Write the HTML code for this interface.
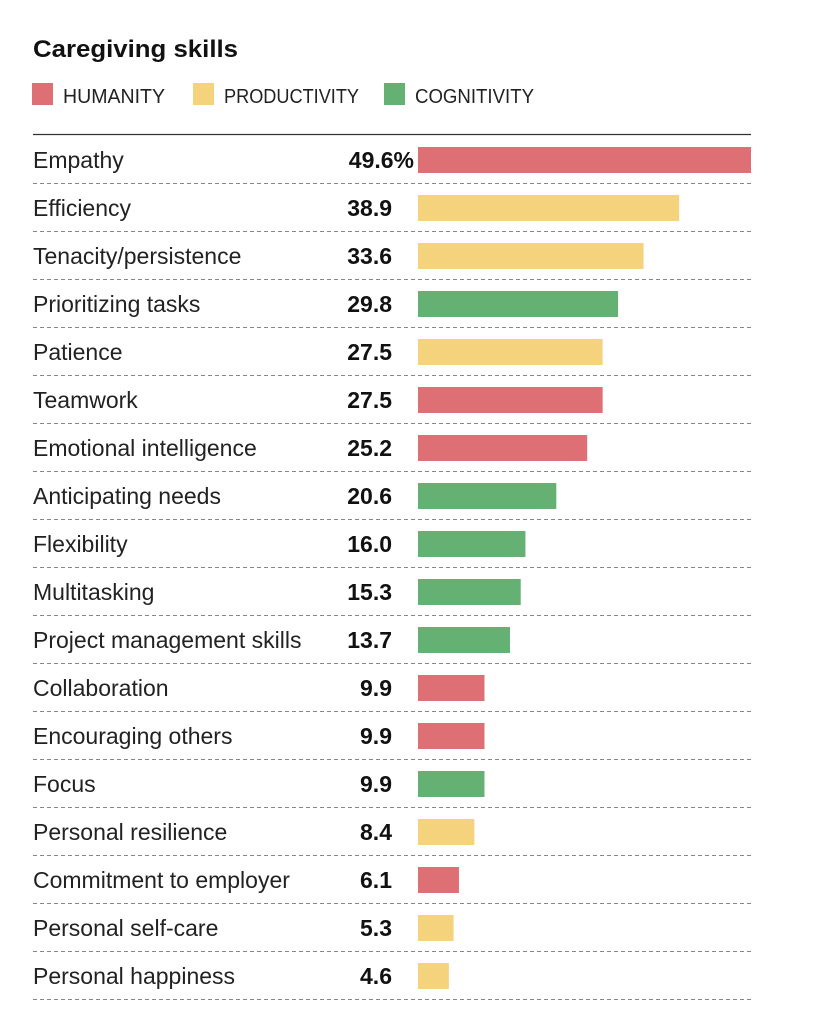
<!DOCTYPE html>
<html><head><meta charset="utf-8"><style>
body{margin:0;background:#fff;font-family:"Liberation Sans",sans-serif;}
svg text{font-family:"Liberation Sans",sans-serif;}
</style></head><body>
<svg width="830" height="1030">
<text x="33" y="57" font-size="24" font-weight="bold" fill="#111" textLength="205" lengthAdjust="spacingAndGlyphs">Caregiving skills</text>
<g>
<rect x="32" y="83" width="21" height="22" fill="#dd6f75"/>
<text x="63" y="103" font-size="20" fill="#222" textLength="102" lengthAdjust="spacingAndGlyphs">HUMANITY</text>
<rect x="193" y="83" width="21" height="22" fill="#f5d27c"/>
<text x="224" y="103" font-size="20" fill="#222" textLength="135" lengthAdjust="spacingAndGlyphs">PRODUCTIVITY</text>
<rect x="384" y="83" width="21" height="22" fill="#65b073"/>
<text x="415" y="103" font-size="20" fill="#222" textLength="119" lengthAdjust="spacingAndGlyphs">COGNITIVITY</text>
</g>
<line x1="33" y1="134.5" x2="751" y2="134.5" stroke="#333" stroke-width="1.3"/>
<g id="rows"></g>
</svg>
<script>
const categories=["Empathy","Efficiency","Tenacity/persistence","Prioritizing tasks","Patience","Teamwork","Emotional intelligence","Anticipating needs","Flexibility","Multitasking","Project management skills","Collaboration","Encouraging others","Focus","Personal resilience","Commitment to employer","Personal self-care","Personal happiness"];
const values=[49.6,38.9,33.6,29.8,27.5,27.5,25.2,20.6,16.0,15.3,13.7,9.9,9.9,9.9,8.4,6.1,5.3,4.6];
const groups=["H","P","P","C","P","H","H","C","C","C","C","H","H","C","P","H","P","P"];
const labels=["49.6%","38.9","33.6","29.8","27.5","27.5","25.2","20.6","16.0","15.3","13.7","9.9","9.9","9.9","8.4","6.1","5.3","4.6"];
const colors={H:"#dd6f75",P:"#f5d27c",C:"#65b073"};
const x0=418, xMax=751, vMax=49.6;
const xs=v=>x0+(v/vMax)*(xMax-x0);
const NS="http://www.w3.org/2000/svg";
const g=document.getElementById('rows');
function mk(t,a){const e=document.createElementNS(NS,t);for(const k in a)e.setAttribute(k,a[k]);g.appendChild(e);return e;}
categories.forEach((c,i)=>{
  const cy=160+i*48;
  const l=mk('text',{x:33,y:cy+8,'font-size':23,fill:'#222'});
  l.textContent=c;
  
  
  const ax=i===0?414:392;
  const v=mk('text',{x:ax,y:cy+8,'font-size':23,'font-weight':'bold',fill:'#111','text-anchor':'end'});
  v.textContent=labels[i];
  
  
  const r=mk('rect',{x:x0,y:cy-13,width:xs(values[i])-x0,height:26,fill:colors[groups[i]]});
  
  
  const ln=mk('line',{x1:33,x2:751,y1:cy+23.5,y2:cy+23.5,stroke:'#888','stroke-width':1,'stroke-dasharray':'4,3'});
  
  
});
</script>
</body></html>
